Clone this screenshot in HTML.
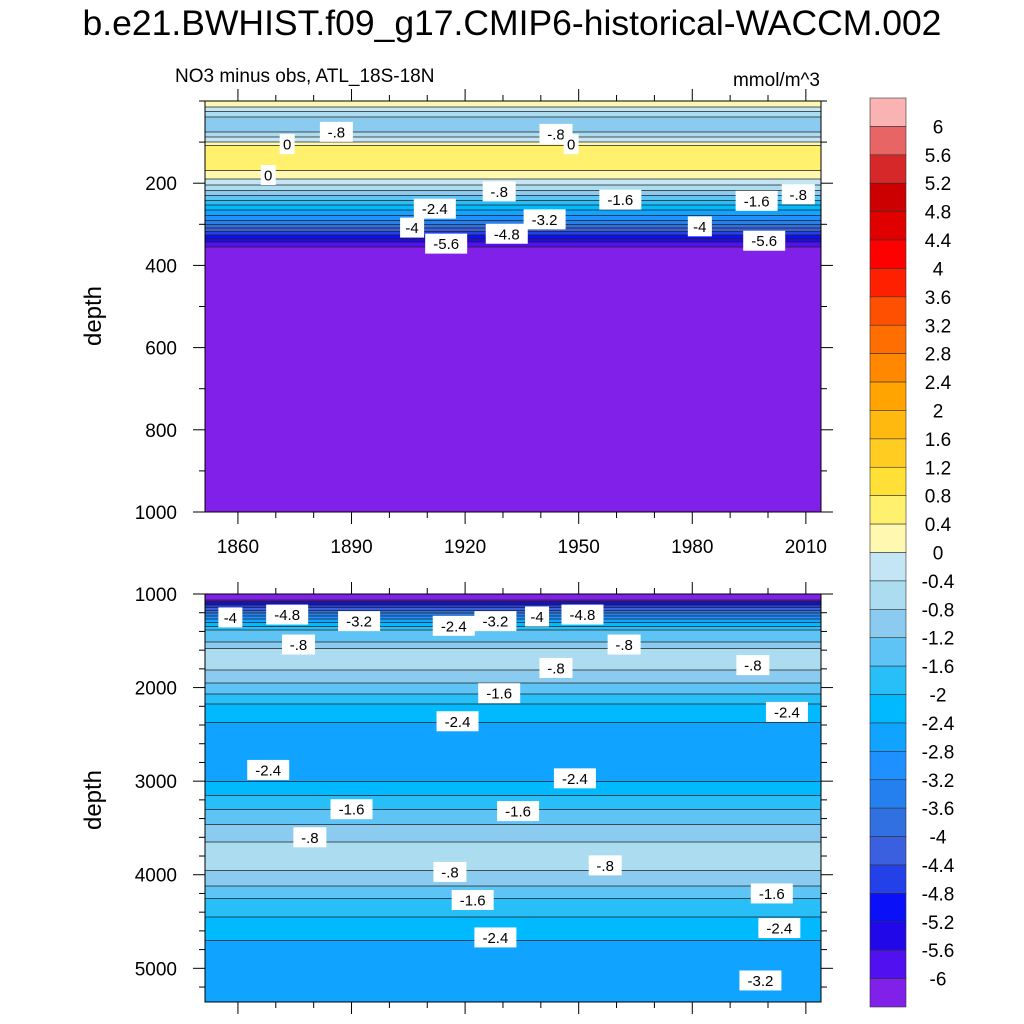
<!DOCTYPE html>
<html><head><meta charset="utf-8"><style>
html,body{margin:0;padding:0;background:#fff;}
svg{display:block;font-family:"Liberation Sans",Arial,sans-serif;}
</style></head><body>
<svg id="chart" width="1024" height="1024" viewBox="0 0 1024 1024">
<text x="512" y="35" text-anchor="middle" font-size="35.5">b.e21.BWHIST.f09_g17.CMIP6-historical-WACCM.002</text>
<text x="175" y="82" font-size="19">NO3 minus obs, ATL_18S-18N</text>
<text x="820" y="86" text-anchor="end" font-size="19">mmol/m^3</text>
<g id="top"></g>
<g id="bot"></g>
<g id="cbar"></g>
<text transform="translate(101,316) rotate(-90)" text-anchor="middle" font-size="24">depth</text>
<text transform="translate(101,800) rotate(-90)" text-anchor="middle" font-size="24">depth</text>
</svg>
<script>
const levels=[6,5.6,5.2,4.8,4.4,4,3.6,3.2,2.8,2.4,2,1.6,1.2,0.8,0.4,0,-0.4,-0.8,-1.2,-1.6,-2,-2.4,-2.8,-3.2,-3.6,-4,-4.4,-4.8,-5.2,-5.6,-6];
const levelLabels=["6","5.6","5.2","4.8","4.4","4","3.6","3.2","2.8","2.4","2","1.6","1.2","0.8","0.4","0","-0.4","-0.8","-1.2","-1.6","-2","-2.4","-2.8","-3.2","-3.6","-4","-4.4","-4.8","-5.2","-5.6","-6"];
const colors=["#f9b3b3","#e86565","#d62828","#cc0000","#e00000","#ff0000","#ff2000","#ff4f00","#ff6e00","#ff8800","#ffa400","#ffb90f","#ffcc22","#ffe036","#fff06e","#fff8b0","#c4e6f4","#acdcf0","#8ccbf0","#5ec4f5","#28bff8","#00b9ff","#10a3ff","#1e90ff","#2480ee","#3070e0","#3a60e0","#2440e8","#0a10f8","#2008e8","#5010f0","#8020e8"];
const topDepths=[0,12,22,34,51,66,80,95,110,124,148,168,185,197,217,241,265,290,309,326,338,350,363,400,1000];
const topValues=[0.3,0.1,-0.3,-0.7,-1.1,-1.1,-0.6,-0.2,0.5,0.75,0.75,0.4,0.1,-0.2,-0.8,-1.6,-2.4,-3.2,-4.0,-4.8,-5.4,-5.9,-6.2,-6.5,-6.5];
const botDepths=[1000,1060,1100,1200,1300,1384,1512,1600,1760,1811,1950,2067,2200,2400,2700,3000,3150,3300,3500,3700,3900,4050,4250,4450,4700,5000,5360];
const botValues=[-6.3,-6.0,-5.0,-3.6,-2.4,-1.6,-1.2,-0.7,-0.7,-0.8,-1.2,-1.6,-2.1,-2.45,-2.6,-2.4,-2.0,-1.6,-1.1,-0.7,-0.7,-1.0,-1.6,-2.0,-2.4,-2.6,-2.75];
const xTicks=[1860,1890,1920,1950,1980,2010];
const topYTicks=[200,400,600,800,1000];
const botYTicks=[1000,2000,3000,4000,5000];
const topLabels=[["0",1873,105],["-.8",1886,75],["0",1868,180],["-.8",1944,80],["0",1948,105],["-.8",1929,220],["-2.4",1912,262],["-1.6",1961,240],["-.8",2008,227],["-1.6",1997,243],["-4",1906,308],["-3.2",1941,288],["-4.8",1931,323],["-4",1982,305],["-5.6",1915,347],["-5.6",1999,340]];
const botLabels=[["-4",1858,1250],["-4.8",1873,1220],["-3.2",1892,1290],["-2.4",1917,1340],["-3.2",1928,1290],["-4",1939,1240],["-4.8",1951,1220],["-.8",1876,1540],["-.8",1962,1540],["-.8",1944,1790],["-.8",1996,1760],["-1.6",1929,2060],["-2.4",2005,2260],["-2.4",1918,2360],["-2.4",1868,2880],["-2.4",1949,2970],["-1.6",1890,3300],["-1.6",1934,3320],["-.8",1879,3600],["-.8",1916,3970],["-.8",1957,3900],["-1.6",1922,4270],["-1.6",2001,4200],["-2.4",1928,4670],["-2.4",2003,4570],["-3.2",1998,5130]];

const NS='http://www.w3.org/2000/svg';
const svg=document.getElementById('chart');
function mk(tag,attrs,parent){const e=document.createElementNS(NS,tag);for(const k in attrs)e.setAttribute(k,attrs[k]);(parent||svg).appendChild(e);return e;}
function interp(ds,vs,d){if(d<=ds[0])return vs[0];for(let i=1;i<ds.length;i++){if(d<=ds[i]){const t=(d-ds[i-1])/(ds[i]-ds[i-1]);return vs[i-1]+t*(vs[i]-vs[i-1]);}}return vs[vs.length-1];}
function colorFor(v){for(let i=0;i<levels.length;i++){if(v>=levels[i])return colors[i];}return colors[colors.length-1];}
const X0=205,X1=821;
function xScale(yr){return X0+(yr-1851.3)*(X1-X0)/(2014-1851.3);}

function panel(g,ds,vs,d0,d1,y0,y1,yTicks,minorStep,labels,labelX){
  const ys=d=>y0+(d-d0)*(y1-y0)/(d1-d0);
  const dy=y=>d0+(y-y0)*(d1-d0)/(y1-y0);
  let prev=null,start=y0;
  for(let y=y0;y<=y1;y+=0.5){
    const c=colorFor(interp(ds,vs,dy(y)));
    if(c!==prev){if(prev){const r=mk('rect',{x:X0,y:start,width:X1-X0,height:y-start+0.6,fill:prev},g);}prev=c;start=y;}
  }
  const r=mk('rect',{x:X0,y:start,width:X1-X0,height:y1-start,fill:prev},g);
  
  for(let y=y0+0.5;y<y1;y+=0.5){
    const a=interp(ds,vs,dy(y-0.5)),b=interp(ds,vs,dy(y));
    for(const L of levels){if((a-L)*(b-L)<0){const l=mk('line',{x1:X0,x2:X1,y1:y,y2:y,stroke:'#222','stroke-width':0.7},g);}}
  }
  for(const lb of labels){
    const x=xScale(lb[1]),y=ys(lb[2]);
    const w=lb[0].length*9+6;
    const rr=mk('rect',{x:x-w/2,y:y-10,width:w,height:20,fill:'#fff'},g);
    
    const t=mk('text',{x:x,y:y+5.5,'text-anchor':'middle','font-size':15},g);t.textContent=lb[0];
    
  }
  const fr=mk('rect',{x:X0,y:y0,width:X1-X0,height:y1-y0,fill:'none',stroke:'#000','stroke-width':1},g);
  
  for(let yr=1860;yr<=2010;yr+=10){
    const x=xScale(yr),maj=(yr-1860)%30===0,L=maj?12:6;
    mk('line',{x1:x,x2:x,y1:y0,y2:y0-L,stroke:'#000'},g);
    mk('line',{x1:x,x2:x,y1:y1,y2:y1+L,stroke:'#000'},g);
  }
  for(let d=Math.ceil(d0/minorStep)*minorStep;d<=d1;d+=minorStep){
    const y=ys(d),maj=yTicks.includes(d),L=maj?12:6;
    mk('line',{x1:X0,x2:X0-L,y1:y,y2:y,stroke:'#000'},g);
    mk('line',{x1:X1,x2:X1+L,y1:y,y2:y,stroke:'#000'},g);
  }
  for(const d of yTicks){const t=mk('text',{x:177,y:ys(d)+7,'text-anchor':'end','font-size':19},g);t.textContent=d;
    }
  if(labelX){for(const yr of xTicks){const t=mk('text',{x:xScale(yr),y:y1+41,'text-anchor':'middle','font-size':19},g);t.textContent=yr;
    }}
}
panel(document.getElementById('top'),topDepths,topValues,0,1000,101,512,topYTicks,100,topLabels,true);
panel(document.getElementById('bot'),botDepths,botValues,1000,5360,594,1002,botYTicks,200,botLabels,false);

const cb=document.getElementById('cbar');
const CB0=98,CB1=1007,bh=(CB1-CB0)/colors.length;
colors.forEach((c,i)=>{const r=mk('rect',{x:870,y:CB0+i*bh,width:36,height:bh,fill:c,stroke:'#333','stroke-width':0.6},cb);
  });
levelLabels.forEach((s,i)=>{const t=mk('text',{x:938,y:CB0+(i+1)*bh+7,'text-anchor':'middle','font-size':19},cb);t.textContent=s;
  });
</script>
</body></html>
